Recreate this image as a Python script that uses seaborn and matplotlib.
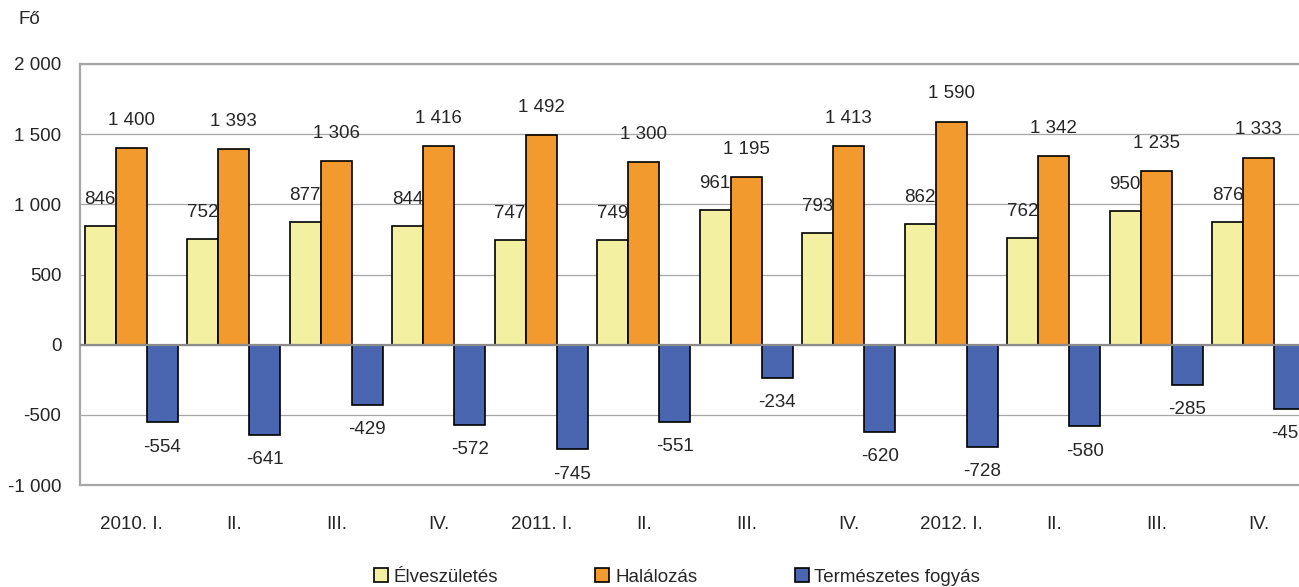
import pandas as pd
import seaborn as sns
import matplotlib.pyplot as plt
from matplotlib.ticker import FuncFormatter, MultipleLocator

# Data
quarters = ["2010. I.", "II.", "III.", "IV.", "2011. I.", "II.", "III.", "IV.",
            "2012. I.", "II.", "III.", "IV."]
births = [846, 752, 877, 844, 747, 749, 961, 793, 862, 762, 950, 876]
deaths = [1400, 1393, 1306, 1416, 1492, 1300, 1195, 1413, 1590, 1342, 1235, 1333]
natural_decrease = [-554, -641, -429, -572, -745, -551, -234, -620, -728, -580, -285, -457]

series_names = ["Élveszületés", "Halálozás", "Természetes fogyás"]
colors = ["#F3F1A1", "#F39A2E", "#4A66B1"]

# long format for seaborn (x positions as integers so duplicate labels stay separate)
rows = []
for i in range(len(quarters)):
    rows.append((i, series_names[0], births[i]))
    rows.append((i, series_names[1], deaths[i]))
    rows.append((i, series_names[2], natural_decrease[i]))
df = pd.DataFrame(rows, columns=["pos", "series", "value"])

sns.set_style("white")
plt.rcParams['font.family'] = ['Liberation Sans', 'DejaVu Sans']
plt.rcParams['font.size'] = 13.5

fig = plt.figure(figsize=(12.99, 5.87), dpi=100)
ax = fig.add_axes([80 / 1299, 1 - 485 / 587, 1230 / 1299, 421 / 587])

sns.barplot(data=df, x="pos", y="value", hue="series", hue_order=series_names,
            palette=colors, width=0.91, gap=0, edgecolor="black", linewidth=1.2,
            saturation=1, ax=ax, legend=False)

ax.set_xlim(-0.5, 11.5)
ax.set_ylim(-1000, 2000)
ax.yaxis.set_major_locator(MultipleLocator(500))
ax.yaxis.set_major_formatter(FuncFormatter(lambda v, p: f"{v:,.0f}".replace(",", " ")))
ax.set_xticks(range(len(quarters)))
ax.set_xticklabels(quarters)
ax.set_xlabel("")
ax.set_ylabel("")

grid_c = "#A6A6A6"
ax.grid(axis="y", color=grid_c, linewidth=0.9)
ax.set_axisbelow(True)
ax.axhline(0, color="#8C8C8C", linewidth=1.6, zorder=3)
for side in ["left", "top", "bottom"]:
    ax.spines[side].set_color(grid_c)
    ax.spines[side].set_linewidth(1.6)
ax.spines["right"].set_visible(False)

ax.tick_params(axis="y", length=6.5, width=1.2, color=grid_c, pad=7, labelsize=13.5)
ax.tick_params(axis="x", length=0, pad=22, labelsize=13.5)

# value labels
offsets = [19, 20, -18]
for container, off in zip(ax.containers, offsets):
    for bar in container:
        h = bar.get_height()
        xc = bar.get_x() + bar.get_width() / 2
        txt = f"{h:,.0f}".replace(",", " ")
        ax.annotate(txt, (xc, h), xytext=(0, off), textcoords="offset points",
                    ha="center", va="center", fontsize=13.5, annotation_clip=False)

fig.text(18 / 1299, 1 - 20 / 587, "Fő", ha="left", va="center", fontsize=13.5)

handles = [plt.Rectangle((0, 0), 1, 1, facecolor=c, edgecolor="black", linewidth=1.2)
           for c in colors]
fig.legend(handles, series_names, loc="center", bbox_to_anchor=(677 / 1299, 10 / 587),
           ncol=3, frameon=False, fontsize=13.5, handlelength=0.75, handleheight=0.75,
           handletextpad=0.3, columnspacing=5.2, borderaxespad=0)

fig.savefig("out.png", dpi=100)
